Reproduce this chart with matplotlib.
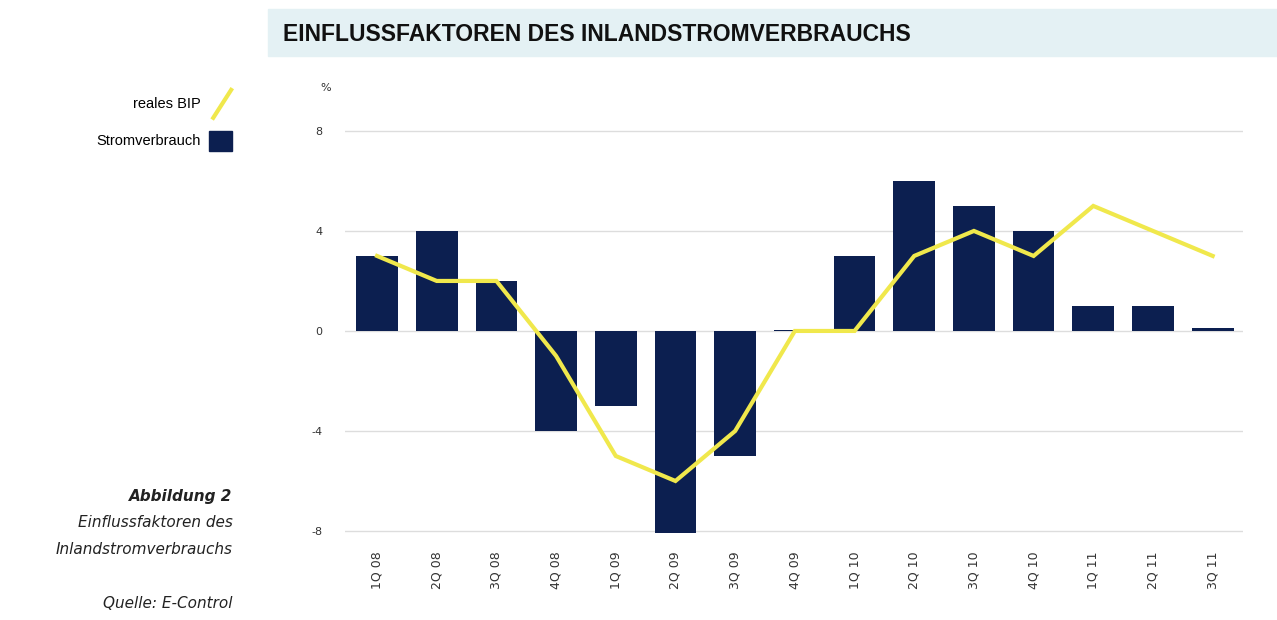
import matplotlib.pyplot as plt
from matplotlib.patches import Rectangle
from matplotlib.lines import Line2D

quarters = ['1Q 08', '2Q 08', '3Q 08', '4Q 08', '1Q 09', '2Q 09', '3Q 09', '4Q 09',
            '1Q 10', '2Q 10', '3Q 10', '4Q 10', '1Q 11', '2Q 11', '3Q 11']
stromverbrauch = [3, 4, 2, -4, -3, -8.1, -5, 0.05, 3, 6, 5, 4, 1, 1, 0.1]
reales_bip = [3, 2, 2, -1, -5, -6, -4, 0, 0, 3, 4, 3, 5, 4, 3]
y_ticks = [-8, -4, 0, 4, 8]

navy = '#0c1f50'
yellow = '#f0e84c'
title_font = ['Liberation Sans Narrow', 'Liberation Sans', 'DejaVu Sans']

fig = plt.figure(figsize=(12.77, 6.2), dpi=100)
ax = fig.add_axes([0.270, 0.1375, 0.703, 0.6715])

x = range(len(quarters))
ax.bar(x, stromverbrauch, width=0.7, color=navy, zorder=2)
ax.plot(x, reales_bip, color=yellow, lw=3, zorder=3, solid_joinstyle='miter')

ax.set_xlim(-0.54, 14.5)
ax.set_ylim(-8.15, 8.5)
ax.set_yticks(y_ticks)
ax.set_yticklabels([str(v) for v in y_ticks], fontsize=8, color='#333333')
ax.yaxis.grid(True, color='#dddddd', lw=1, zorder=0)
ax.tick_params(axis='y', length=0, pad=16)
ax.set_xticks(list(x))
ax.set_xticklabels(quarters, rotation=90, fontsize=9, color='#333333')
ax.tick_params(axis='x', length=0, pad=12)
for s in ax.spines.values():
    s.set_visible(False)
ax.text(-0.95, 9.7, '%', fontsize=8, color='#333333', ha='left', va='center')

# title banner
fig.patches.append(Rectangle((0.21, 0.91), 0.79, 0.075, transform=fig.transFigure,
                             color='#e4f1f4', zorder=0))
fig.text(0.222, 0.944, 'EINFLUSSFAKTOREN DES INLANDSTROMVERBRAUCHS', fontsize=16.5,
         fontweight='bold', family=title_font, color='#111111', va='center')

# legend on the left
fig.text(0.157, 0.833, 'reales BIP', fontsize=10.5, ha='right', va='center', family=title_font)
fig.lines.append(Line2D([0.167, 0.181], [0.81, 0.855], transform=fig.transFigure,
                        color=yellow, lw=3))
fig.text(0.157, 0.772, 'Stromverbrauch', fontsize=10.5, ha='right', va='center', family=title_font)
fig.patches.append(Rectangle((0.164, 0.757), 0.018, 0.032, transform=fig.transFigure,
                             color=navy))

# caption
fig.text(0.182, 0.2, 'Abbildung 2', fontsize=11, style='italic', fontweight='bold',
         ha='right', va='center', color='#222222')
fig.text(0.182, 0.158, 'Einflussfaktoren des', fontsize=11, style='italic',
         ha='right', va='center', color='#222222')
fig.text(0.182, 0.113, 'Inlandstromverbrauchs', fontsize=11, style='italic',
         ha='right', va='center', color='#222222')
fig.text(0.182, 0.026, 'Quelle: E-Control', fontsize=11, style='italic',
         ha='right', va='center', color='#222222')

plt.savefig('out.png', dpi=100)
